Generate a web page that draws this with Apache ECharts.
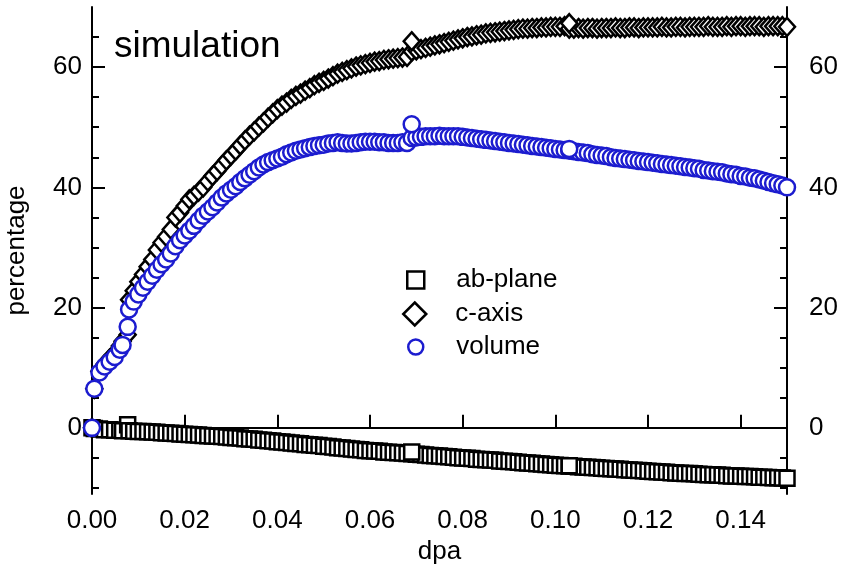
<!DOCTYPE html>
<html>
<head>
<meta charset="utf-8">
<script src="https://cdn.jsdelivr.net/npm/echarts@6/dist/echarts.min.js"></script>
<style>html,body{margin:0;padding:0;background:#fff;}#chart{width:842px;height:569px;}</style>
</head>
<body>
<div id="chart"></div>
<script>
// dpa values: early sparse run, dense run (0.008..0.150), then the separate end-of-stage points
const dpa = [
0, 0.0005, 0.0016, 0.0027, 0.0038, 0.0049, 0.006, 0.0066, 0.0077,
0.008,0.009,0.010,0.011,0.012,0.013,0.014,0.015,0.016,0.017,0.018,0.019,
0.020,0.021,0.022,0.023,0.024,0.025,0.026,0.027,0.028,0.029,
0.030,0.031,0.032,0.033,0.034,0.035,0.036,0.037,0.038,0.039,
0.040,0.041,0.042,0.043,0.044,0.045,0.046,0.047,0.048,0.049,
0.050,0.051,0.052,0.053,0.054,0.055,0.056,0.057,0.058,0.059,
0.060,0.061,0.062,0.063,0.064,0.065,0.066,0.067,0.068,0.069,
0.070,0.071,0.072,0.073,0.074,0.075,0.076,0.077,0.078,0.079,
0.080,0.081,0.082,0.083,0.084,0.085,0.086,0.087,0.088,0.089,
0.090,0.091,0.092,0.093,0.094,0.095,0.096,0.097,0.098,0.099,
0.100,0.101,0.102,0.103,0.104,0.105,0.106,0.107,0.108,0.109,
0.110,0.111,0.112,0.113,0.114,0.115,0.116,0.117,0.118,0.119,
0.120,0.121,0.122,0.123,0.124,0.125,0.126,0.127,0.128,0.129,
0.130,0.131,0.132,0.133,0.134,0.135,0.136,0.137,0.138,0.139,
0.140,0.141,0.142,0.143,0.144,0.145,0.146,0.147,0.148,0.149,
0.150,
0.069, 0.103
];

const abPlane = [
0, -0.1, -0.2, -0.3, -0.3, -0.4, -0.4, -0.5, 0.5,
-0.5,-0.55,-0.6,-0.6,-0.65,-0.7,-0.75,-0.8,-0.85,-0.9,-0.95,-1.0,
-1.05,-1.1,-1.15,-1.2,-1.25,-1.3,-1.35,-1.4,-1.45,-1.5,
-1.6,-1.65,-1.7,-1.8,-1.85,-1.9,-2.0,-2.05,-2.15,-2.2,
-2.3,-2.35,-2.45,-2.5,-2.6,-2.65,-2.75,-2.8,-2.9,-2.95,
-3.05,-3.1,-3.2,-3.3,-3.35,-3.45,-3.5,-3.6,-3.65,-3.75,
-3.8,-3.85,-3.9,-4.0,-4.05,-4.1,-4.15,-4.2,-4.25,-4.3,
-4.4,-4.45,-4.5,-4.6,-4.65,-4.7,-4.75,-4.8,-4.9,-4.95,
-5.0,-5.05,-5.1,-5.2,-5.25,-5.3,-5.35,-5.4,-5.5,-5.55,
-5.6,-5.65,-5.7,-5.8,-5.85,-5.9,-5.95,-6.0,-6.1,-6.15,
-6.2,-6.25,-6.3,-6.35,-6.4,-6.45,-6.5,-6.55,-6.6,-6.65,
-6.7,-6.75,-6.8,-6.85,-6.9,-6.95,-7.0,-7.05,-7.1,-7.15,
-7.2,-7.25,-7.3,-7.35,-7.4,-7.45,-7.5,-7.55,-7.6,-7.6,
-7.65,-7.7,-7.75,-7.8,-7.8,-7.85,-7.9,-7.95,-8.0,-8.0,
-8.05,-8.1,-8.1,-8.15,-8.2,-8.2,-8.25,-8.3,-8.3,-8.35,
-8.4,
-4.0, -6.3
];

const cAxis = [
0, 6.5, 9.4, 10.6, 11.5, 12.4, 13.6, 14.4, 15.5,
21.3,22.8,24.3,25.5,26.8,28.0,29.6,30.8,31.8,33.0,35.0,35.8,
36.9,38.0,38.6,39.3,40.0,41.0,41.9,42.7,43.6,44.5,
45.3,46.1,47.0,47.8,48.6,49.3,50.1,50.8,51.6,52.3,
53.0,53.6,54.1,54.7,55.2,55.6,56.1,56.5,57.0,57.4,
57.7,58.1,58.5,58.9,59.2,59.5,59.8,60.1,60.3,60.5,
60.7,60.9,61.0,61.2,61.3,61.4,61.5,61.6,61.7,62.6,
62.8,63.0,63.2,63.4,63.6,63.8,64.0,64.2,64.4,64.6,
64.8,65.0,65.1,65.3,65.4,65.6,65.7,65.8,65.9,66.0,
66.1,66.2,66.3,66.4,66.4,66.5,66.5,66.6,66.6,66.7,
66.7,66.7,66.8,66.4,66.4,66.5,66.4,66.5,66.5,66.4,
66.5,66.5,66.5,66.6,66.5,66.5,66.6,66.6,66.5,66.6,
66.6,66.6,66.6,66.7,66.6,66.6,66.7,66.7,66.6,66.7,
66.7,66.7,66.7,66.8,66.7,66.7,66.7,66.8,66.7,66.8,
66.8,66.7,66.8,66.8,66.8,66.7,66.8,66.8,66.8,66.8,
66.7,
64.3, 67.3
];

const volume = [
0, 6.5, 9.2, 10.2, 11.0, 11.8, 13.0, 13.8, 16.8,
19.7,21.0,22.2,23.3,24.3,25.3,26.3,27.2,28.0,29.0,30.2,31.2,
32.0,32.8,33.6,34.5,35.3,36.0,36.7,37.5,38.3,39.0,
39.6,40.2,40.9,41.5,42.1,42.7,43.3,43.8,44.2,44.5,
44.8,45.1,45.5,45.8,46.1,46.3,46.5,46.7,46.9,47.0,
47.1,47.3,47.4,47.5,47.4,47.3,47.3,47.4,47.5,47.6,
47.6,47.6,47.5,47.5,47.4,47.4,47.4,47.5,47.4,48.2,
48.3,48.4,48.5,48.5,48.5,48.6,48.5,48.5,48.5,48.5,
48.4,48.3,48.2,48.1,48.0,47.9,47.8,47.7,47.6,47.5,
47.4,47.3,47.2,47.1,47.0,46.9,46.8,46.7,46.6,46.5,
46.4,46.3,46.2,46.1,46.0,45.9,45.8,45.7,45.5,45.4,
45.3,45.2,45.0,44.9,44.8,44.7,44.6,44.5,44.4,44.3,
44.2,44.1,44.0,43.9,43.8,43.7,43.6,43.5,43.4,43.3,
43.2,43.1,42.9,42.8,42.7,42.6,42.5,42.3,42.2,42.1,
41.9,41.8,41.6,41.5,41.3,41.1,40.9,40.7,40.5,40.3,
40.0,
50.5, 46.4
];

const xTicks = [0, 0.02, 0.04, 0.06, 0.08, 0.10, 0.12, 0.14];
const yTicks = [0, 20, 40, 60];
const yMinorTicks = [-10, -5, 5, 10, 15, 25, 30, 35, 45, 50, 55, 65];
const seriesNames = ['ab-plane', 'c-axis', 'volume'];

const FONT = 'Liberation Sans, Arial, Helvetica, sans-serif';
const BLUE = '#1c1ccf';

function pairs(vals) { return dpa.map((x, i) => [x, vals[i]]); }

function yAxisDef(pos, major) {
  return {
    type: 'value', position: pos, min: -11, max: 70,
    axisLine: { show: major, lineStyle: { color: '#000', width: 2 } },
    axisTick: { show: true, inside: true, length: major ? 13 : 7,
      customValues: major ? yTicks : yMinorTicks,
      lineStyle: { color: '#000', width: 2 } },
    axisLabel: { show: major, customValues: yTicks, color: '#000',
      fontSize: 26, fontFamily: FONT, margin: pos === 'left' ? 10 : 22 },
    splitLine: { show: false }
  };
}

const chart = echarts.init(document.getElementById('chart'), null, { renderer: 'canvas' });
const yLeft = yAxisDef('left', true);
yLeft.name = 'percentage';
yLeft.nameLocation = 'middle';
yLeft.nameGap = 62;
yLeft.nameTextStyle = { color: '#000', fontSize: 26, fontFamily: FONT };

function legendDef(name, left, top, size, pad, border) {
  return {
    data: [name], orient: 'vertical', left: left, top: top,
    itemWidth: size, itemHeight: size,
    itemStyle: { color: '#fff', borderColor: border, borderWidth: 2.5 },
    textStyle: { color: '#000', fontSize: 26, fontFamily: FONT, padding: [0, 0, 0, pad] },
    selectedMode: false
  };
}

chart.setOption({
  animation: false,
  backgroundColor: '#fff',
  textStyle: { fontFamily: FONT },
  title: { text: 'simulation', left: 109, top: 23,
    textStyle: { color: '#000', fontSize: 37, fontWeight: 'normal', fontFamily: FONT } },
  grid: { left: 92, right: 55, top: 7, bottom: 75, containLabel: false, outerBoundsMode: 'none' },
  legend: [
    legendDef(seriesNames[0], 401, 262, 17, 27, '#000'),
    legendDef(seriesNames[1], 397, 296, 23, 24, '#000'),
    legendDef(seriesNames[2], 402, 329, 15, 28, BLUE)
  ],
  xAxis: [
    { type: 'value', position: 'bottom', min: 0, max: 0.15,
      axisLine: { show: true, lineStyle: { color: '#000', width: 2 } },
      axisTick: { show: true, inside: true, length: 13, customValues: xTicks,
        lineStyle: { color: '#000', width: 2 } },
      axisLabel: { customValues: xTicks, color: '#000', fontSize: 26, fontFamily: FONT,
        margin: 14, formatter: v => v.toFixed(2) },
      splitLine: { show: false },
      name: 'dpa', nameLocation: 'middle', nameGap: 40,
      nameTextStyle: { color: '#000', fontSize: 26, fontFamily: FONT } },
    { type: 'value', position: 'top', min: 0, max: 0.15,
      axisLine: { show: true, lineStyle: { color: '#000', width: 2 } },
      axisTick: { show: false }, axisLabel: { show: false }, splitLine: { show: false } }
  ],
  yAxis: [ yLeft, yAxisDef('left', false), yAxisDef('right', true), yAxisDef('right', false) ],
  series: [
    { name: seriesNames[0], type: 'scatter', symbol: 'rect', symbolSize: 15,
      data: pairs(abPlane), xAxisIndex: 0, yAxisIndex: 0,
      itemStyle: { color: '#fff', borderColor: '#000', borderWidth: 2.5, opacity: 1 },
      emphasis: { disabled: true } },
    { name: seriesNames[1], type: 'scatter', symbol: 'diamond', symbolSize: [16, 18],
      data: pairs(cAxis), xAxisIndex: 0, yAxisIndex: 0,
      itemStyle: { color: '#fff', borderColor: '#000', borderWidth: 2.5, opacity: 1 },
      emphasis: { disabled: true } },
    { name: seriesNames[2], type: 'scatter', symbol: 'circle', symbolSize: 16,
      data: pairs(volume), xAxisIndex: 0, yAxisIndex: 0,
      itemStyle: { color: '#fff', borderColor: BLUE, borderWidth: 2.5, opacity: 1 },
      emphasis: { disabled: true } }
  ]
});
</script>
</body>
</html>
